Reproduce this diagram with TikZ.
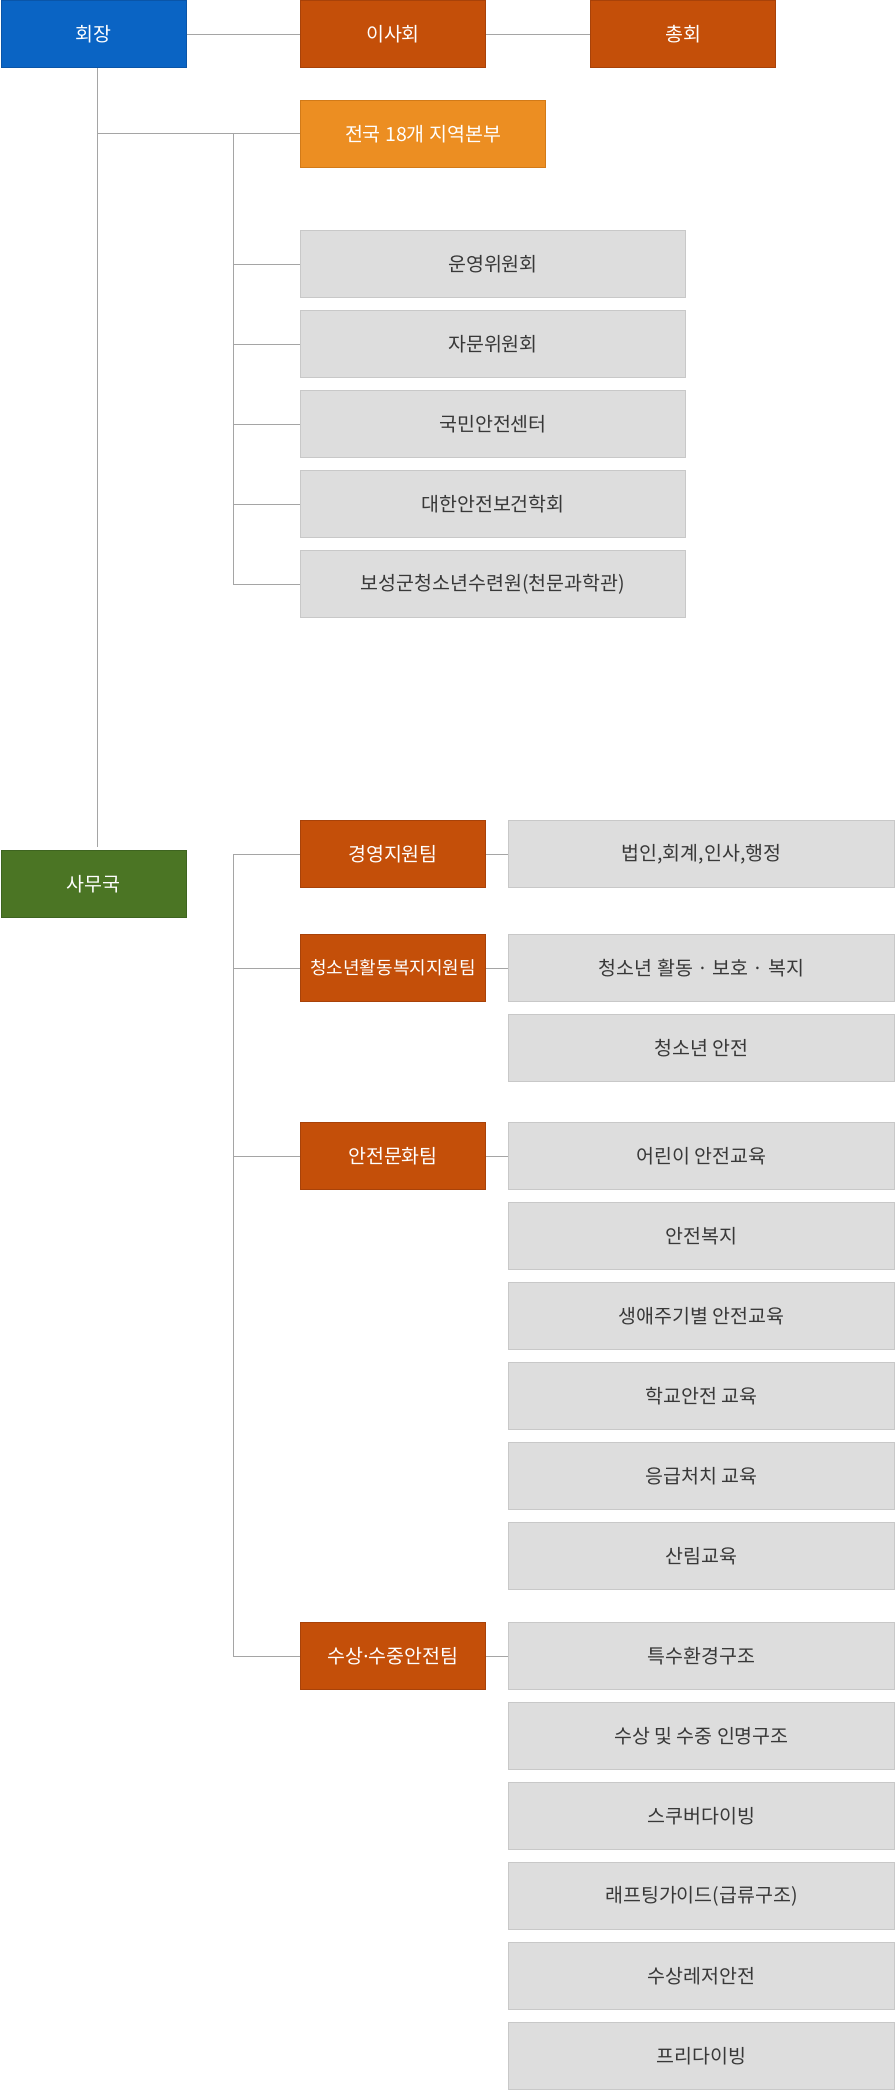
\documentclass[tikz,border=0pt]{standalone}
\usepackage{fontspec}
\setmainfont{Noto Sans CJK KR}
\newfontfamily\latinf{Noto Sans}
\definecolor{cblue}{HTML}{0A64C4}
\definecolor{cbluebd}{HTML}{0A55A8}
\definecolor{cbrown}{HTML}{C44F09}
\definecolor{cbrownbd}{HTML}{A84209}
\definecolor{corange}{HTML}{EC8E22}
\definecolor{corangebd}{HTML}{D27A18}
\definecolor{cgreen}{HTML}{4B7524}
\definecolor{cgreenbd}{HTML}{3E6420}
\definecolor{cgray}{HTML}{DDDDDD}
\definecolor{cgraybd}{HTML}{C8C8C8}
\definecolor{cline}{HTML}{A5A5A5}
\definecolor{ctext}{HTML}{383838}
\tikzset{
  box/.style={anchor=north west, inner sep=0pt, line width=1pt, font=\fontsize{19.5}{23}\selectfont, minimum height=67pt},
  topbox/.style={box, minimum width=185pt, text=white},
  bluebox/.style={topbox, fill=cblue, draw=cbluebd},
  brownbox/.style={topbox, fill=cbrown, draw=cbrownbd},
  greenbox/.style={topbox, fill=cgreen, draw=cgreenbd},
  orangebox/.style={box, minimum width=245pt, text=white, fill=corange, draw=corangebd},
  graybox/.style={box, minimum width=385pt, fill=cgray, draw=cgraybd, text=ctext},
  detbox/.style={box, minimum width=386pt, fill=cgray, draw=cgraybd, text=ctext},
  conn/.style={draw=cline, line width=1pt}
}
\begin{document}
\begin{tikzpicture}[x=1pt,y=-1pt]
\useasboundingbox (0,0) rectangle (894,2090);
% top row
\node[bluebox] (hz) at (0.5,0.5) {회장};
\node[brownbox] (isa) at (300,0.5) {이사회};
\node[brownbox] (ch) at (590,0.5) {총회};
\node[orangebox] (jb) at (300,100) {전국 18개 지역본부};
% committees
\node[graybox] (g1) at (300,230) {운영위원회};
\node[graybox] (g2) at (300,310) {자문위원회};
\node[graybox] (g3) at (300,390) {국민안전센터};
\node[graybox] (g4) at (300,470) {대한안전보건학회};
\node[graybox] (g5) at (300,550) {보성군청소년수련원(천문과학관)};
% secretariat
\node[greenbox] (sm) at (0.5,850) {사무국};
% teams
\node[brownbox] (t1) at (300,820) {경영지원팀};
\node[brownbox, font=\fontsize{18}{22}\selectfont] (t2) at (300,934) {청소년활동복지지원팀};
\node[brownbox] (t3) at (300,1122) {안전문화팀};
\node[brownbox] (t4) at (300,1622) {수상{\latinf ·}수중안전팀};
% details
\node[detbox] (d1) at (508,820) {법인,회계,인사,행정};
\node[detbox] (d2) at (508,934) {청소년 활동 · 보호 · 복지};
\node[detbox] (d3) at (508,1014) {청소년 안전};
\node[detbox] (d4) at (508,1122) {어린이 안전교육};
\node[detbox] (d5) at (508,1202) {안전복지};
\node[detbox] (d6) at (508,1282) {생애주기별 안전교육};
\node[detbox] (d7) at (508,1362) {학교안전 교육};
\node[detbox] (d8) at (508,1442) {응급처치 교육};
\node[detbox] (d9) at (508,1522) {산림교육};
\node[detbox] (d10) at (508,1622) {특수환경구조};
\node[detbox] (d11) at (508,1702) {수상 및 수중 인명구조};
\node[detbox] (d12) at (508,1782) {스쿠버다이빙};
\node[detbox] (d13) at (508,1862) {래프팅가이드(급류구조)};
\node[detbox] (d14) at (508,1942) {수상레저안전};
\node[detbox] (d15) at (508,2022) {프리다이빙};
% connectors
\draw[conn] (hz.east) -- (isa.west);
\draw[conn] (isa.east) -- (ch.west);
\coordinate (hzb) at (97.5,0 |- hz.south);
\coordinate (smt) at (97.5,0 |- sm.north);
\draw[conn, shorten >=3pt] (hzb) -- (smt);
\coordinate (ja) at (hzb |- jb.west);
\coordinate (jv) at (233.5,0 |- jb.west);
\draw[conn] (ja) -- (jb.west);
\draw[conn] (jv) -- (jv |- g5.west) -- (g5.west);
\foreach \g in {g1,g2,g3,g4} \draw[conn] (jv |- \g.west) -- (\g.west);
\coordinate (tv) at (233.5,0 |- t1.west);
\draw[conn] (tv) -- (tv |- t4.west) -- (t4.west);
\foreach \t in {t1,t2,t3} \draw[conn] (tv |- \t.west) -- (\t.west);
\draw[conn] (t1.east) -- (d1.west);
\draw[conn] (t2.east) -- (d2.west);
\draw[conn] (t3.east) -- (d4.west);
\draw[conn] (t4.east) -- (d10.west);
\end{tikzpicture}
\end{document}
